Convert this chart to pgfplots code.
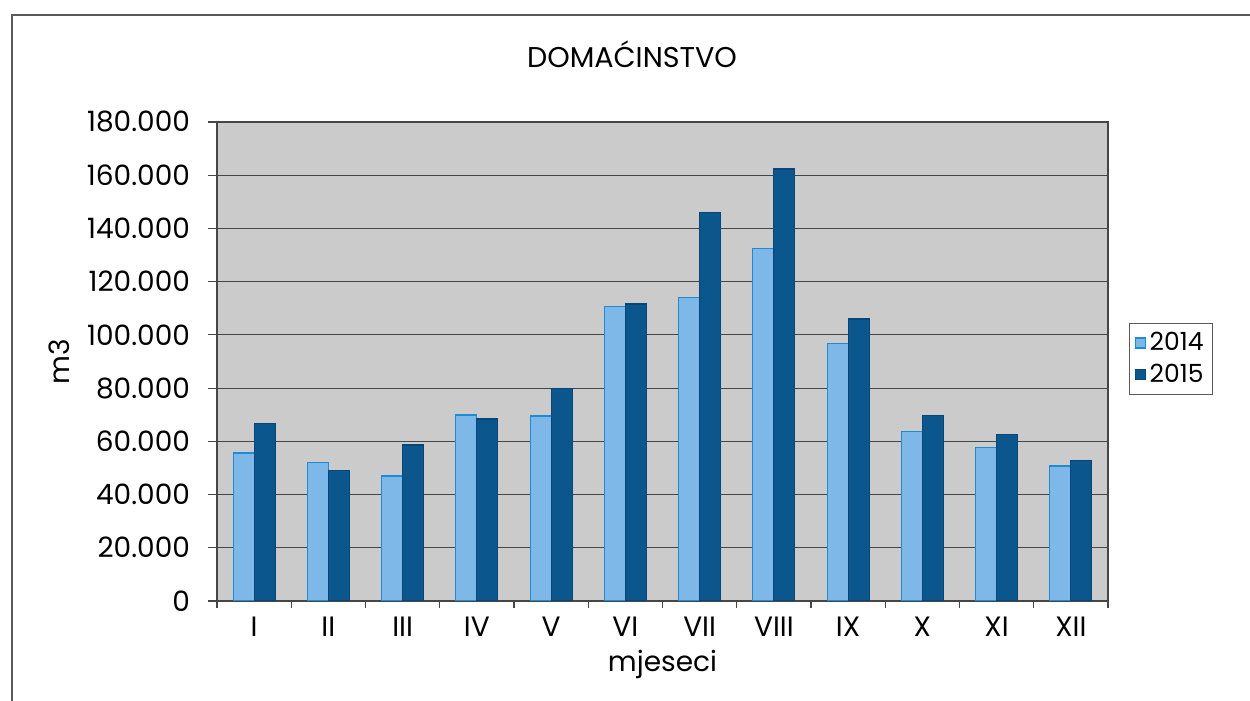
\documentclass[border=0pt]{standalone}
\usepackage{pgfplots}
\pgfplotsset{compat=1.18}
\usepackage{fontspec}
\setmainfont{Poppins}
\definecolor{bg}{RGB}{202,203,202}
\definecolor{c14}{RGB}{125,184,232}
\definecolor{c14e}{RGB}{30,140,212}
\definecolor{c15}{RGB}{12,86,142}
\definecolor{c15e}{RGB}{8,70,122}
\definecolor{gridc}{RGB}{70,70,70}
\definecolor{framec}{RGB}{90,90,90}
\begin{document}
\begin{tikzpicture}
\path[use as bounding box] (0,0) rectangle (625pt,350.5pt);
\draw[framec, line width=0.8pt] (6pt,0pt) -- (6pt,343pt) -- (625pt,343pt);
\node[font=\fontsize{14.3}{16}\selectfont] at (316pt,323.5pt) {DOMAĆINSTVO};
\begin{axis}[
  at={(108.5pt,50pt)}, anchor=south west,
  width=445.5pt, height=239.5pt, scale only axis,
  axis background/.style={fill=bg},
  ybar=0pt, bar width=10.5pt,
  xmin=-0.5, xmax=11.5,
  ymin=0, ymax=180000,
  xtick={0,...,11},
  xticklabels={I,II,III,IV,V,VI,VII,VIII,IX,X,XI,XII},
  minor xtick={-0.5,0.5,...,11.5},
  major x tick style={draw=none},
  minor x tick style={gridc, line width=0.6pt},
  minor tick length=3.5pt,
  ytick={0,20000,...,180000},
  major tick length=4.5pt,
  y tick style={gridc, line width=0.6pt},
  tick align=outside,
  tick pos=left,
  scaled y ticks=false,
  yticklabel style={xshift=-5.5pt, /pgf/number format/.cd, fixed, precision=0, 1000 sep={.}, assume math mode=true},
  ticklabel style={font=\fontsize{14}{16}\selectfont},
  ymajorgrids,
  grid style={gridc, line width=0.6pt},
  axis line style={gridc, line width=0.7pt},
  xlabel={mjeseci}, ylabel={m3},
  xlabel style={font=\fontsize{14}{16}\selectfont},
  every axis y label/.style={at={(rel axis cs:0,0.5)}, anchor=center, xshift=-79pt, rotate=90, font=\fontsize{14}{16}\selectfont},
  legend style={at={(1.0236,0.506)}, anchor=west, draw=framec, line width=0.5pt,
    font=\fontsize{12.5}{14}\selectfont, row sep=1pt, inner sep=2.5pt},
  legend cell align=left,
  legend image code/.code={\fill[#1] (0pt,-2.5pt) rectangle (5pt,2.5pt);},
]
\addplot[fill=c14, draw=c14e, line width=0.6pt] coordinates {
 (0,55600) (1,51900) (2,47000) (3,69900) (4,69500) (5,110600)
 (6,114100) (7,132500) (8,96700) (9,63600) (10,57600) (11,50700)};
\addplot[fill=c15, draw=c15e, line width=0.6pt] coordinates {
 (0,66600) (1,48900) (2,58600) (3,68400) (4,80000) (5,111600)
 (6,145900) (7,162300) (8,106000) (9,69600) (10,62600) (11,52900)};
\legend{2014,2015}
\end{axis}
\end{tikzpicture}
\end{document}
